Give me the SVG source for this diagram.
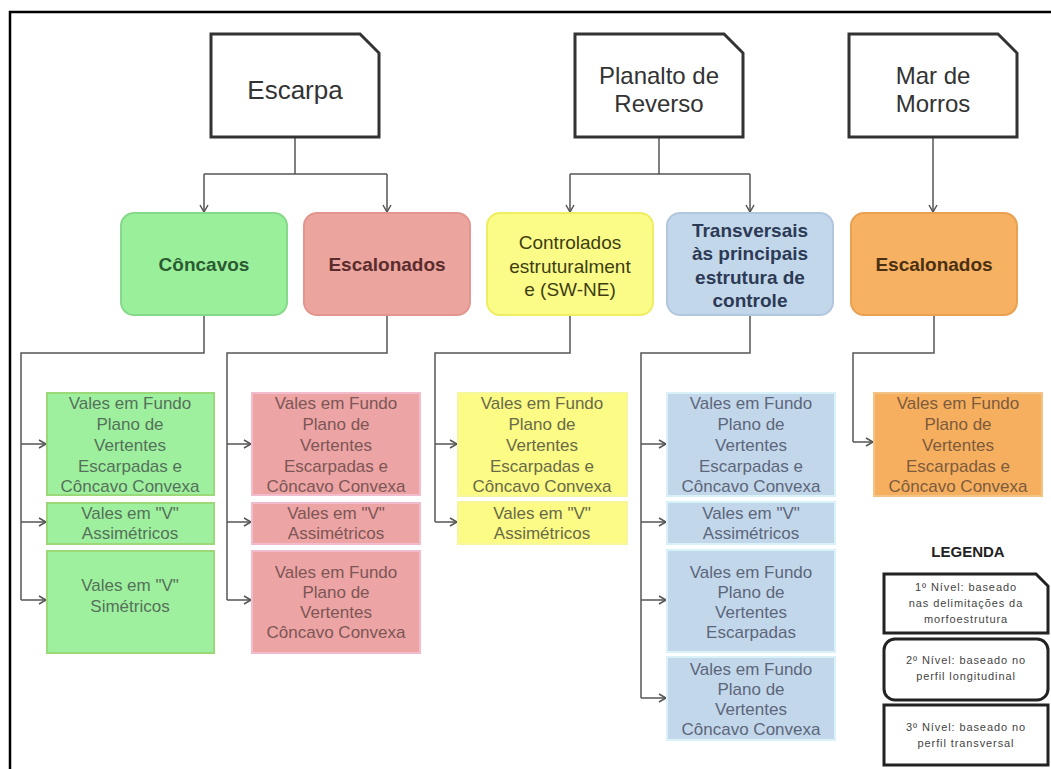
<svg xmlns="http://www.w3.org/2000/svg" width="1051" height="769" viewBox="0 0 1051 769">
<defs>
<marker id="arr" markerUnits="userSpaceOnUse" markerWidth="10" markerHeight="10" refX="8" refY="5" orient="auto">
<path d="M1,1 L8,5 L1,9" fill="none" stroke="#555" stroke-width="1.5"/>
</marker>
<style>
.frame{fill:none;stroke:#000;stroke-width:2.5}
.top{fill:#fff;stroke:#333;stroke-width:3}
.t1{font-family:"Liberation Sans",Arial,sans-serif;font-size:26px;fill:#333;text-anchor:middle}
.t1b{font-family:"Liberation Sans",Arial,sans-serif;font-size:24px;fill:#333;text-anchor:middle}
.t2{font-family:"Liberation Sans",Arial,sans-serif;font-size:19px;text-anchor:middle}
.b{font-weight:bold}
.t3{font-family:"Liberation Sans",Arial,sans-serif;font-size:17px;text-anchor:middle}
.con{fill:none;stroke:#555;stroke-width:1.5}
.ar{fill:none;stroke:#555;stroke-width:1.5;marker-end:url(#arr)}
.g2{fill:#99ef9a;stroke:#86d98a;stroke-width:2}
.p2{fill:#eba49e;stroke:#e3968f;stroke-width:2}
.y2{fill:#fbfb88;stroke:#eeee62;stroke-width:2}
.bl2{fill:#c3d7eb;stroke:#b0c7df;stroke-width:2}
.o2{fill:#f7b163;stroke:#e9a050;stroke-width:2}
.g3{fill:#9ef09e;stroke:#9bd878;stroke-width:2}
.p3{fill:#eca4a4;stroke:#f3bccc;stroke-width:2}
.y3{fill:#fbfb86;stroke:#f6f69a;stroke-width:2}
.bl3{fill:#c3d7eb;stroke:#d9f1f8;stroke-width:2}
.o3{fill:#f6af5f;stroke:#f2c384;stroke-width:2}
.tg{fill:#55705a}
.tp{fill:#7d5656}
.ty{fill:#6a6a48}
.tb{fill:#5c667a}
.to{fill:#7d5b3c}
.leg{fill:#fff;stroke:#222;stroke-width:3}
.lt{font-family:"Liberation Sans",Arial,sans-serif;font-size:11px;fill:#444;text-anchor:middle;letter-spacing:0.9px}
</style>
</defs>
<rect x="0" y="0" width="1051" height="769" fill="#fff"/>
<path class="frame" d="M10,769 V12 H1051"/>

<g id="connectors">
<path class="con" d="M295,137 V174 M204,174 H387"/>
<path class="ar" d="M204,174 V212"/>
<path class="ar" d="M387,174 V212"/>
<path class="con" d="M659,137 V174 M570,174 H750"/>
<path class="ar" d="M570,174 V212"/>
<path class="ar" d="M750,174 V212"/>
<path class="ar" d="M933,137 V212"/>

<path class="con" d="M204,315 V353 H21 V600"/>
<path class="ar" d="M21,444 H46"/>
<path class="ar" d="M21,522 H46"/>
<path class="ar" d="M21,600 H46"/>

<path class="con" d="M387,315 V353 H227 V600"/>
<path class="ar" d="M227,444 H251"/>
<path class="ar" d="M227,522 H251"/>
<path class="ar" d="M227,600 H251"/>

<path class="con" d="M570,315 V353 H435 V522"/>
<path class="ar" d="M435,444 H457"/>
<path class="ar" d="M435,522 H457"/>

<path class="con" d="M750,315 V353 H641 V698"/>
<path class="ar" d="M641,444 H666"/>
<path class="ar" d="M641,522 H666"/>
<path class="ar" d="M641,600 H666"/>
<path class="ar" d="M641,698 H666"/>

<path class="con" d="M934,315 V353 H853 V442"/>
<path class="ar" d="M853,442 H873"/>
</g>

<g id="escarpa">
<path class="top" d="M211,34 H360 L379,53 V137 H211 Z"/>
<text class="t1" x="295" y="99">Escarpa</text>
</g>
<g id="planalto">
<path class="top" d="M575,34 H724 L743,53 V137 H575 Z"/>
<text class="t1b" x="659" y="84">Planalto de</text>
<text class="t1b" x="659" y="112">Reverso</text>
</g>
<g id="mar">
<path class="top" d="M849,34 H998 L1017,53 V137 H849 Z"/>
<text class="t1b" x="933" y="84">Mar de</text>
<text class="t1b" x="933" y="112">Morros</text>
</g>

<g id="concavos">
<rect class="g2" x="121" y="213" width="166" height="102" rx="13"/>
<text class="t2 b" x="204" y="271" fill="#2c5a32">Côncavos</text>
</g>
<g id="escalonados1">
<rect class="p2" x="304" y="213" width="166" height="102" rx="13"/>
<text class="t2 b" x="387" y="271" fill="#5a2c2c">Escalonados</text>
</g>
<g id="controlados">
<rect class="y2" x="487" y="213" width="166" height="102" rx="13"/>
<text class="t2" x="570" y="249" fill="#3e3e12">Controlados</text>
<text class="t2" x="570" y="273" fill="#3e3e12">estruturalment</text>
<text class="t2" x="570" y="296" fill="#3e3e12">e (SW-NE)</text>
</g>
<g id="transversais">
<rect class="bl2" x="667" y="213" width="166" height="102" rx="13"/>
<text class="t2 b" x="750" y="237" fill="#2c3a55">Transversais</text>
<text class="t2 b" x="750" y="260" fill="#2c3a55">às principais</text>
<text class="t2 b" x="750" y="284" fill="#2c3a55">estrutura de</text>
<text class="t2 b" x="750" y="307" fill="#2c3a55">controle</text>
</g>
<g id="escalonados2">
<rect class="o2" x="851" y="213" width="166" height="102" rx="13"/>
<text class="t2 b" x="934" y="271" fill="#4a3012">Escalonados</text>
</g>

<g id="g-fundo">
<rect class="g3" x="47" y="393" width="167" height="102"/>
<text class="t3 tg" x="130" y="409">Vales em Fundo</text>
<text class="t3 tg" x="130" y="430">Plano de</text>
<text class="t3 tg" x="130" y="451">Vertentes</text>
<text class="t3 tg" x="130" y="472">Escarpadas e</text>
<text class="t3 tg" x="130" y="492">Côncavo Convexa</text>
</g>
<g id="g-assim">
<rect class="g3" x="47" y="503" width="167" height="41"/>
<text class="t3 tg" x="130" y="519">Vales em &quot;V&quot;</text>
<text class="t3 tg" x="130" y="539">Assimétricos</text>
</g>
<g id="g-sim">
<rect class="g3" x="47" y="551" width="167" height="102"/>
<text class="t3 tg" x="130" y="591">Vales em &quot;V&quot;</text>
<text class="t3 tg" x="130" y="612">Simétricos</text>
</g>

<g id="p-fundo">
<rect class="p3" x="252" y="393" width="168" height="102"/>
<text class="t3 tp" x="336" y="409">Vales em Fundo</text>
<text class="t3 tp" x="336" y="430">Plano de</text>
<text class="t3 tp" x="336" y="451">Vertentes</text>
<text class="t3 tp" x="336" y="472">Escarpadas e</text>
<text class="t3 tp" x="336" y="492">Côncavo Convexa</text>
</g>
<g id="p-assim">
<rect class="p3" x="252" y="503" width="168" height="41"/>
<text class="t3 tp" x="336" y="519">Vales em &quot;V&quot;</text>
<text class="t3 tp" x="336" y="539">Assimétricos</text>
</g>
<g id="p-concavo">
<rect class="p3" x="252" y="551" width="168" height="102"/>
<text class="t3 tp" x="336" y="578">Vales em Fundo</text>
<text class="t3 tp" x="336" y="598">Plano de</text>
<text class="t3 tp" x="336" y="618">Vertentes</text>
<text class="t3 tp" x="336" y="638">Côncavo Convexa</text>
</g>

<g id="y-fundo">
<rect class="y3" x="458" y="393" width="169" height="103"/>
<text class="t3 ty" x="542" y="409">Vales em Fundo</text>
<text class="t3 ty" x="542" y="430">Plano de</text>
<text class="t3 ty" x="542" y="451">Vertentes</text>
<text class="t3 ty" x="542" y="472">Escarpadas e</text>
<text class="t3 ty" x="542" y="492">Côncavo Convexa</text>
</g>
<g id="y-assim">
<rect class="y3" x="458" y="502" width="169" height="42"/>
<text class="t3 ty" x="542" y="519">Vales em &quot;V&quot;</text>
<text class="t3 ty" x="542" y="539">Assimétricos</text>
</g>

<g id="b-fundo">
<rect class="bl3" x="667" y="393" width="168" height="103"/>
<text class="t3 tb" x="751" y="409">Vales em Fundo</text>
<text class="t3 tb" x="751" y="430">Plano de</text>
<text class="t3 tb" x="751" y="451">Vertentes</text>
<text class="t3 tb" x="751" y="472">Escarpadas e</text>
<text class="t3 tb" x="751" y="492">Côncavo Convexa</text>
</g>
<g id="b-assim">
<rect class="bl3" x="667" y="502" width="168" height="42"/>
<text class="t3 tb" x="751" y="519">Vales em &quot;V&quot;</text>
<text class="t3 tb" x="751" y="539">Assimétricos</text>
</g>
<g id="b-escarpadas">
<rect class="bl3" x="667" y="550" width="168" height="102"/>
<text class="t3 tb" x="751" y="578">Vales em Fundo</text>
<text class="t3 tb" x="751" y="598">Plano de</text>
<text class="t3 tb" x="751" y="618">Vertentes</text>
<text class="t3 tb" x="751" y="638">Escarpadas</text>
</g>
<g id="b-concavo">
<rect class="bl3" x="667" y="657" width="168" height="83"/>
<text class="t3 tb" x="751" y="675">Vales em Fundo</text>
<text class="t3 tb" x="751" y="695">Plano de</text>
<text class="t3 tb" x="751" y="715">Vertentes</text>
<text class="t3 tb" x="751" y="735">Côncavo Convexa</text>
</g>

<g id="o-fundo">
<rect class="o3" x="874" y="393" width="168" height="103"/>
<text class="t3 to" x="958" y="409">Vales em Fundo</text>
<text class="t3 to" x="958" y="430">Plano de</text>
<text class="t3 to" x="958" y="451">Vertentes</text>
<text class="t3 to" x="958" y="472">Escarpadas e</text>
<text class="t3 to" x="958" y="492">Côncavo Convexa</text>
</g>

<g id="legenda">
<text x="968" y="557" font-family="'Liberation Sans',Arial,sans-serif" font-size="15" font-weight="bold" fill="#222" text-anchor="middle">LEGENDA</text>
<path class="leg" d="M884,574 H1036 L1048,586 V633 H884 Z"/>
<text class="lt" x="966" y="591">1º Nível: baseado</text>
<text class="lt" x="966" y="607">nas delimitações da</text>
<text class="lt" x="966" y="623">morfoestrutura</text>
<rect class="leg" x="884" y="639" width="164" height="61" rx="11"/>
<text class="lt" x="966" y="664">2º Nível: baseado no</text>
<text class="lt" x="966" y="680">perfil longitudinal</text>
<rect class="leg" x="884" y="705" width="164" height="60"/>
<text class="lt" x="966" y="731">3º Nível: baseado no</text>
<text class="lt" x="966" y="747">perfil transversal</text>
</g>
</svg>
